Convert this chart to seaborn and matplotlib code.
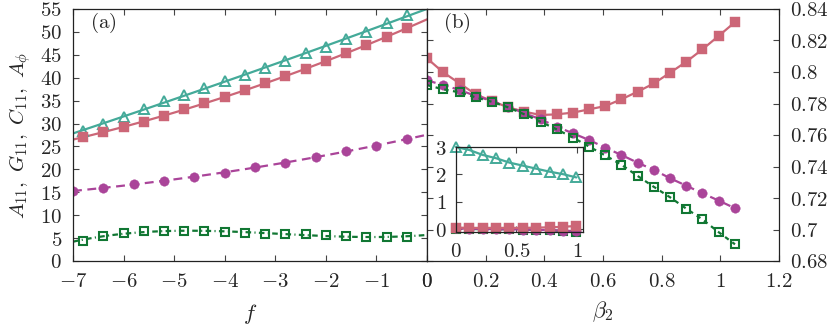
import numpy as np
import pandas as pd
import matplotlib
matplotlib.use("Agg")
import matplotlib.pyplot as plt
import seaborn as sns
from matplotlib.ticker import FuncFormatter, MultipleLocator

sns.set_theme(style="ticks")
plt.rcParams["font.family"] = ["DejaVu Serif"]
plt.rcParams["mathtext.fontset"] = "cm"

# ---------------- data: panel (a) ----------------
f_main = [-6.8, -6.4, -6.0, -5.6, -5.2, -4.8, -4.4, -4.0, -3.6, -3.2, -2.8,
          -2.4, -2.0, -1.6, -1.2, -0.8, -0.4]
a_teal = [28.44, 29.83, 31.49, 33.17, 34.92, 36.23, 37.82, 39.29, 40.59, 42.05,
          43.65, 45.33, 46.77, 48.38, 50.04, 51.88, 53.69]
a_pink = [27.13, 28.09, 29.31, 30.34, 31.65, 33.11, 34.42, 35.86, 37.32, 38.78,
          40.38, 41.90, 43.65, 45.33, 47.14, 48.95, 50.79]
a_green = [4.36, 5.46, 6.18, 6.61, 6.61, 6.61, 6.44, 6.26, 6.05, 5.89, 5.83,
           5.83, 5.67, 5.46, 5.30, 5.24, 5.24]
f_circ = [-7.0, -6.4, -5.8, -5.2, -4.6, -4.0, -3.4, -2.8, -2.2, -1.6, -1.0, -0.4]
a_purple = [15.28, 16.00, 16.74, 17.46, 18.40, 19.27, 20.45, 21.45, 22.76,
            24.01, 25.16, 26.56]

# ---------------- data: panel (b) ----------------
beta2 = [0.0, 0.055, 0.111, 0.166, 0.221, 0.276, 0.332, 0.387, 0.442, 0.497,
         0.553, 0.608, 0.663, 0.718, 0.774, 0.829, 0.884, 0.939, 0.995, 1.05]
b_pink = [0.8087, 0.7998, 0.7928, 0.7858, 0.7816, 0.7776, 0.7748, 0.7727,
          0.7731, 0.7742, 0.7763, 0.7784, 0.7827, 0.7875, 0.7928, 0.7996,
          0.8065, 0.8144, 0.8230, 0.8317]
b_purple = [0.7947, 0.7917, 0.7886, 0.7848, 0.7816, 0.7780, 0.7738, 0.7700,
            0.7653, 0.7611, 0.7568, 0.7519, 0.7473, 0.7424, 0.7378, 0.7325,
            0.7278, 0.7230, 0.7183, 0.7135]
b_green = [0.7917, 0.7890, 0.7871, 0.7839, 0.7811, 0.7776, 0.7731, 0.7684,
           0.7636, 0.7584, 0.7526, 0.7470, 0.7411, 0.7340, 0.7270, 0.7204,
           0.7132, 0.7064, 0.6982, 0.6906]

# inset
beta_in = [0.0, 0.111, 0.221, 0.332, 0.442, 0.553, 0.663, 0.774, 0.884, 0.995]
in_teal = [3.0, 2.89, 2.71, 2.59, 2.43, 2.32, 2.21, 2.10, 2.01, 1.89]
in_pink = [0.06, 0.05, 0.05, 0.05, 0.05, 0.05, 0.06, 0.07, 0.09, 0.12]
in_green = [0.02, 0.01, 0.0, 0.0, 0.0, -0.01, -0.02, -0.04, -0.06, -0.09]
in_purple = [0.03, 0.02, 0.01, 0.0, 0.0, -0.01, -0.02, -0.03, -0.05, -0.07]

TEAL = "#44aa99"
PINK = "#cc6677"
PURPLE = "#aa4499"
GREEN = "#117733"

FS = 15
fmt = FuncFormatter(lambda v, p: f"${v:g}$")

# marker styles
TRI = dict(marker="^", markersize=7, mfc="none", mec=TEAL, mew=1.4)
SQF = dict(marker="s", markersize=7, mfc=PINK, mec=PINK, mew=0.3)
CIR = dict(marker="o", markersize=6.8, mfc=PURPLE, mec=PURPLE, mew=0.3)
SQO = dict(marker="s", markersize=5.6, mfc="none", mec=GREEN, mew=1.5)

fig = plt.figure(figsize=(8.3, 3.26), dpi=100)
L, B, H = 73 / 830, 65 / 326, 252 / 326
axA = fig.add_axes([L, B, 354 / 830, H])
axB = fig.add_axes([427 / 830, B, 352 / 830, H])
axI = fig.add_axes([456 / 830, 94 / 326, 127 / 830, 85 / 326])

def style(ax, pad=8):
    for s in ax.spines.values():
        s.set_color("#222222")
        s.set_linewidth(0.9)
    ax.tick_params(which="both", direction="in", length=4, width=0.8,
                   color="#444444", labelsize=FS, pad=pad,
                   top=True, bottom=True, left=True, right=True)
    ax.xaxis.set_major_formatter(fmt)
    ax.yaxis.set_major_formatter(fmt)
    ax.grid(False)

# ---------------- panel (a) ----------------
axA.set_xlim(-7, 0)
axA.set_ylim(0, 55)
lw = 1.6
sns.regplot(x=f_main, y=a_teal, order=2, scatter=False, ci=None, truncate=False,
            ax=axA, color=TEAL, line_kws=dict(lw=lw))
sns.regplot(x=f_main, y=a_pink, order=2, scatter=False, ci=None, truncate=False,
            ax=axA, color=PINK, line_kws=dict(lw=lw))
sns.regplot(x=f_circ, y=a_purple, order=2, scatter=False, ci=None, truncate=False,
            ax=axA, color=PURPLE, line_kws=dict(lw=lw, ls=(0, (4, 2.5))))
sns.regplot(x=f_main, y=a_green, order=3, scatter=False, ci=None, truncate=False,
            ax=axA, color=GREEN, line_kws=dict(lw=lw, ls=(0, (2.5, 1.5, 0.5, 1.5))))
sns.lineplot(x=f_main, y=a_teal, ax=axA, color=TEAL, linestyle="none", **TRI)
sns.lineplot(x=f_main, y=a_pink, ax=axA, color=PINK, linestyle="none", **SQF)
sns.lineplot(x=f_circ, y=a_purple, ax=axA, color=PURPLE, linestyle="none", **CIR)
sns.lineplot(x=f_main, y=a_green, ax=axA, color=GREEN, linestyle="none", **SQO)
style(axA)
axA.xaxis.set_major_locator(MultipleLocator(1))
axA.yaxis.set_major_locator(MultipleLocator(5))
axA.set_xlim(-7, 0)
axA.set_ylim(0, 55)
axA.set_xlabel(r"$f$", fontsize=FS + 1, labelpad=8)
axA.set_ylabel(r"$A_{11},\ G_{11},\ C_{11},\ A_\phi$", fontsize=FS, labelpad=5)
axA.text(0.048, 0.945, r"$\mathrm{(a)}$", transform=axA.transAxes, fontsize=FS,
         ha="left", va="center")

# ---------------- panel (b) ----------------
sns.lineplot(x=beta2, y=b_pink, ax=axB, color=PINK, lw=lw, **SQF)
sns.lineplot(x=beta2, y=b_purple, ax=axB, color=PURPLE, lw=lw, ls=(0, (4, 2)), **CIR)
sns.lineplot(x=beta2, y=b_green, ax=axB, color=GREEN, lw=lw, ls=(0, (2, 2)), **SQO)
style(axB)
axB.tick_params(axis="y", labelleft=False, labelright=True)
axB.xaxis.set_major_locator(MultipleLocator(0.2))
axB.yaxis.set_major_locator(MultipleLocator(0.02))
axB.set_xlim(0, 1.2)
axB.set_ylim(0.68, 0.84)
axB.set_xlabel(r"$\beta_2$", fontsize=FS + 1, labelpad=6)
axB.set_ylabel("")
axB.text(0.045, 0.945, r"$\mathrm{(b)}$", transform=axB.transAxes, fontsize=FS,
         ha="left", va="center")

# ---------------- inset ----------------
axI.set_facecolor("none")
sns.lineplot(x=beta_in, y=in_teal, ax=axI, color=TEAL, lw=lw, clip_on=False, **TRI)
sns.lineplot(x=beta_in, y=in_green, ax=axI, color=GREEN, lw=lw, ls=(0, (2, 2)),
             clip_on=False, **SQO)
sns.lineplot(x=beta_in, y=in_purple, ax=axI, color=PURPLE, lw=lw, ls=(0, (4, 2)),
             clip_on=False, **CIR)
sns.lineplot(x=beta_in, y=in_pink, ax=axI, color=PINK, lw=lw, clip_on=False, **SQF)
style(axI, pad=7)
axI.xaxis.set_major_locator(MultipleLocator(0.5))
axI.yaxis.set_major_locator(MultipleLocator(1))
axI.set_xlim(0, 1.05)
axI.set_ylim(-0.1, 3.0)
axI.set_xlabel("")
axI.set_ylabel("")

fig.savefig("out.png", dpi=100)
